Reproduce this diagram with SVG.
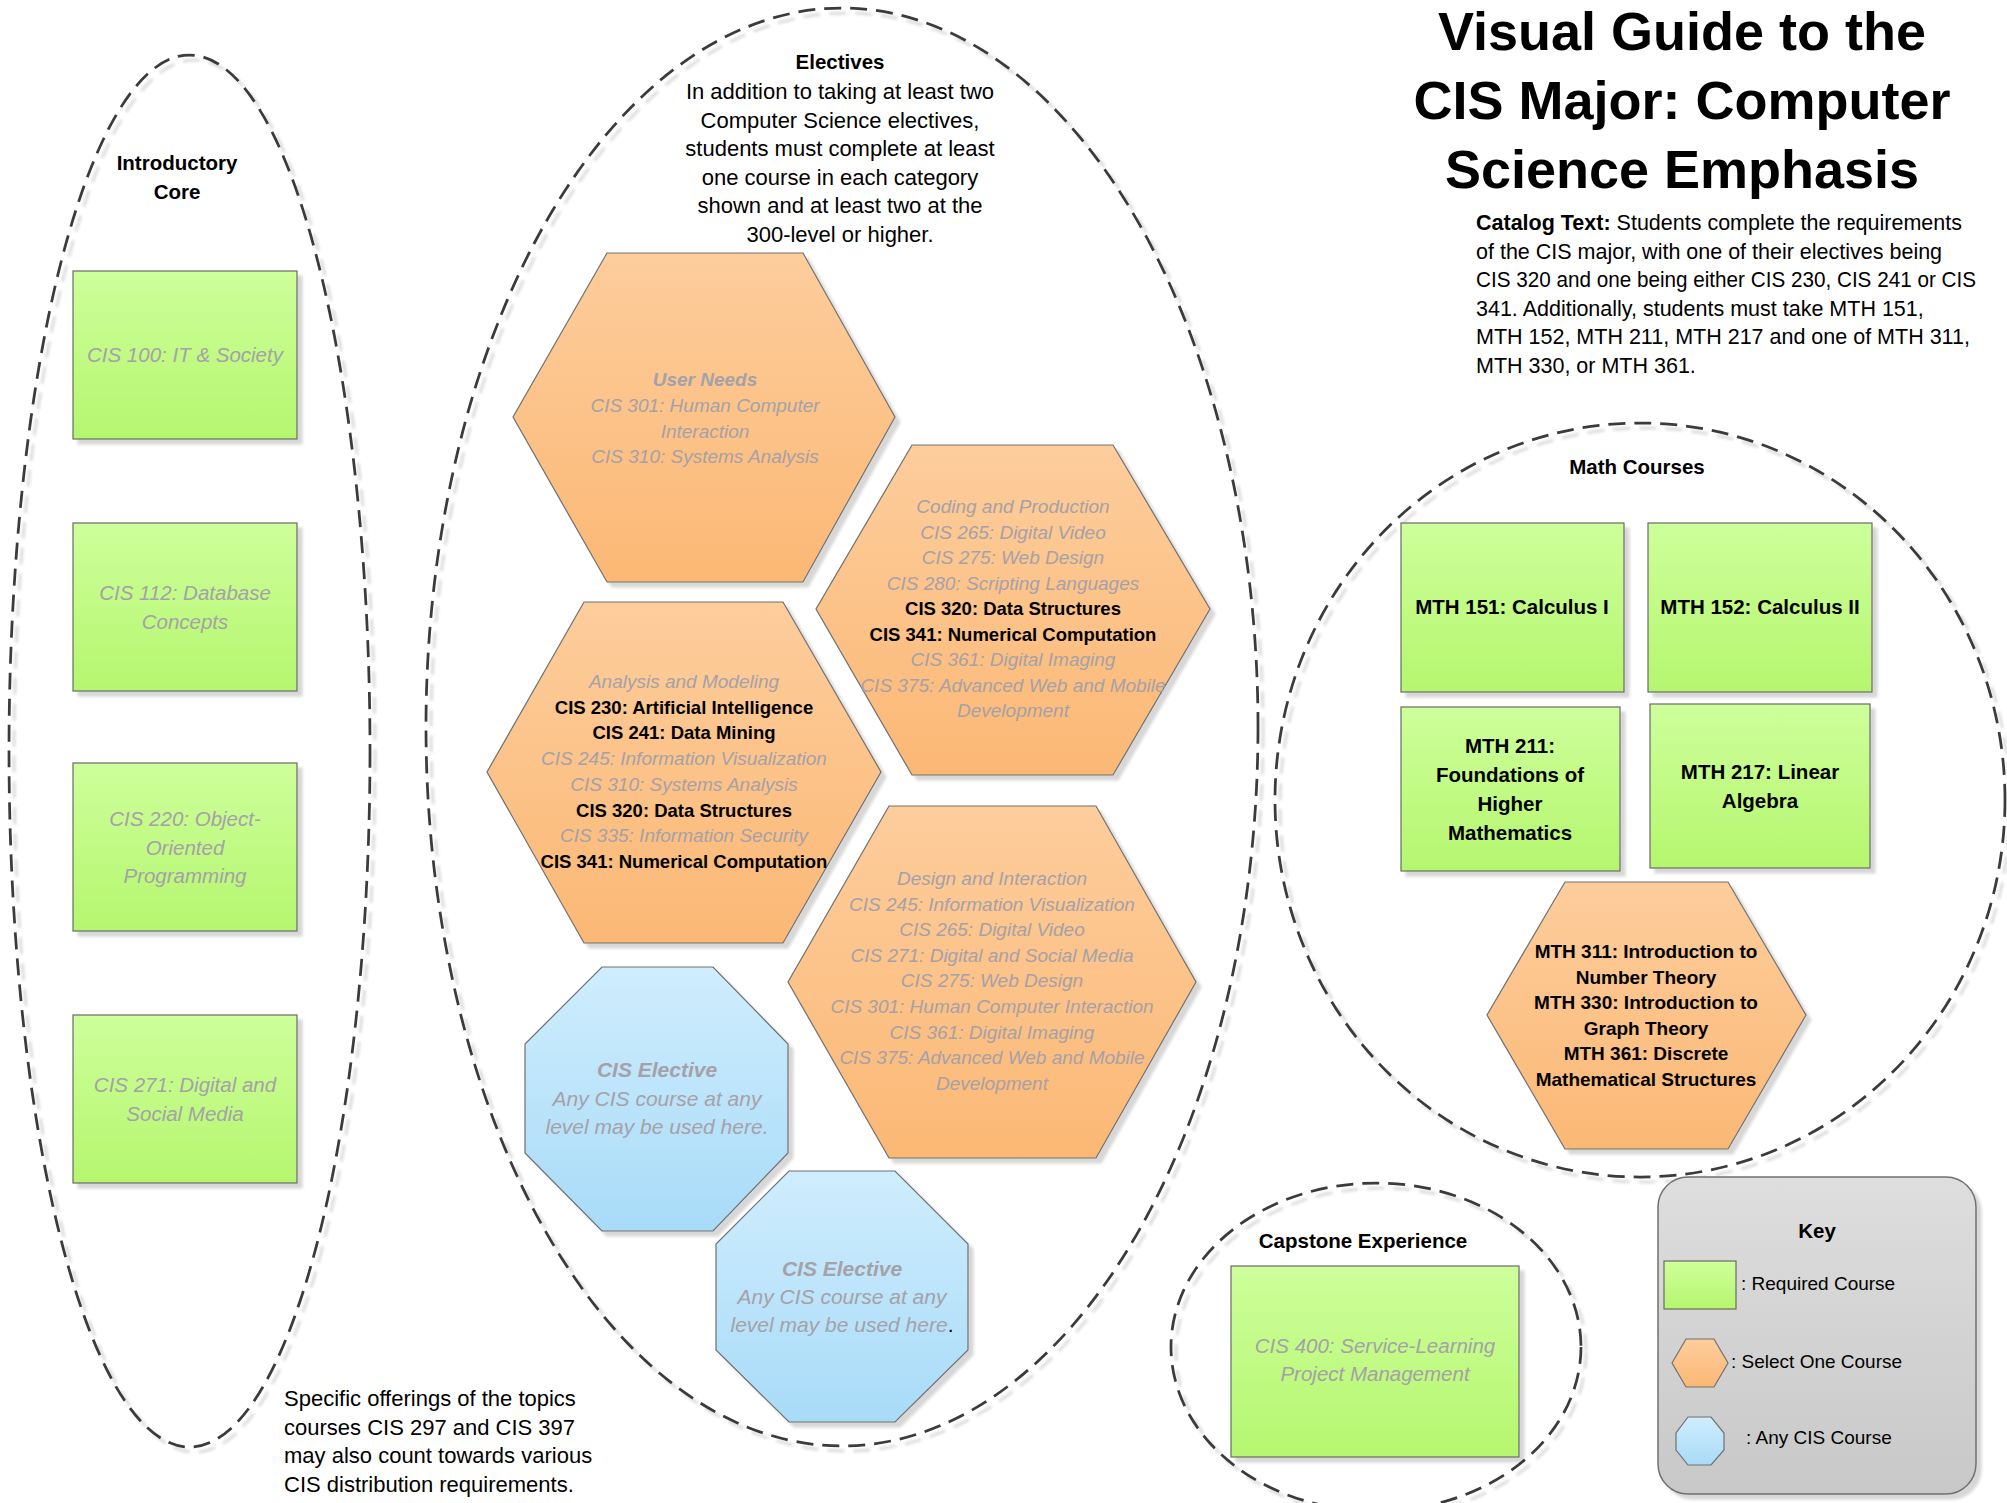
<svg xmlns="http://www.w3.org/2000/svg" width="2007" height="1503" viewBox="0 0 2007 1503">
<defs>
<linearGradient id="gGreen" x1="0" y1="0" x2="0" y2="1"><stop offset="0" stop-color="#cdff9b"/><stop offset="1" stop-color="#b5f66e"/></linearGradient>
<linearGradient id="gOrange" x1="0" y1="0" x2="0" y2="1"><stop offset="0" stop-color="#fdcd9c"/><stop offset="1" stop-color="#fbb875"/></linearGradient>
<linearGradient id="gBlue" x1="0" y1="0" x2="0" y2="1"><stop offset="0" stop-color="#cfedfd"/><stop offset="1" stop-color="#a8dbf8"/></linearGradient>
<linearGradient id="gGray" x1="0" y1="0" x2="0" y2="1"><stop offset="0" stop-color="#dedede"/><stop offset="1" stop-color="#c8c8c8"/></linearGradient>
<filter id="sh" x="-10%" y="-10%" width="130%" height="130%">
<feGaussianBlur in="SourceAlpha" stdDeviation="1.5"/>
<feOffset dx="5" dy="5"/>
<feComponentTransfer><feFuncA type="linear" slope="0.16"/></feComponentTransfer>
<feMerge><feMergeNode/><feMergeNode in="SourceGraphic"/></feMerge>
</filter>
<style>
text{font-family:"Liberation Sans",Arial,sans-serif;}
.grp{fill:none;stroke:#3a3a3a;stroke-width:2.75;stroke-dasharray:17 9;}
.box{fill:url(#gGreen);stroke:#6a6a6a;stroke-width:1.2;}
.hex{fill:url(#gOrange);stroke:#707070;stroke-width:1.2;}
.oct{fill:url(#gBlue);stroke:#707070;stroke-width:1.2;}
.hd{font-weight:bold;font-size:20.5px;fill:#000;text-anchor:middle;}
.body{font-size:22px;fill:#000;}
.cat{font-size:21.5px;fill:#000;}
.gi{font-style:italic;font-size:20.5px;fill:#a5a1a8;text-anchor:middle;}
.hi{font-style:italic;font-size:19px;fill:#a5a1a8;text-anchor:middle;}
.hb{font-weight:bold;font-size:18.5px;fill:#000;text-anchor:middle;font-style:normal;}
.oi{font-style:italic;font-size:21px;fill:#a5a1a8;text-anchor:middle;}
.mb{font-weight:bold;font-size:20.5px;fill:#000;text-anchor:middle;}
.mh{font-weight:bold;font-size:19px;fill:#000;text-anchor:middle;}
.key{font-size:19px;fill:#000;}
.tt{font-size:54px;font-weight:bold;fill:#000;text-anchor:middle;}
</style>
</defs>
<rect width="2007" height="1503" fill="#ffffff"/>

<g id="title">
<text class="tt" x="1682" y="50">Visual Guide to the</text>
<text class="tt" x="1682" y="119" font-size="55">CIS Major: Computer</text>
<text class="tt" x="1682" y="188">Science Emphasis</text>
</g>

<g id="catalog-text">
<text class="cat" x="1476" y="230"><tspan font-weight="bold">Catalog Text:</tspan> Students complete the requirements</text>
<text class="cat" x="1476" y="258.6">of the CIS major, with one of their electives being</text>
<text class="cat" x="1476" y="287.2" textLength="500" lengthAdjust="spacingAndGlyphs">CIS 320 and one being either CIS 230, CIS 241 or CIS</text>
<text class="cat" x="1476" y="315.8">341. Additionally, students must take MTH 151,</text>
<text class="cat" x="1476" y="344.4">MTH 152, MTH 211, MTH 217 and one of MTH 311,</text>
<text class="cat" x="1476" y="373">MTH 330, or MTH 361.</text>
</g>

<g id="introductory-core">
<ellipse class="grp" cx="189.5" cy="751" rx="180.5" ry="696" filter="url(#sh)"/>
<text class="hd" x="177" y="170">Introductory</text>
<text class="hd" x="177" y="199">Core</text>
</g>

<g id="cis100">
<rect class="box" x="73" y="271" width="224" height="168" filter="url(#sh)"/>
<text class="gi" x="185" y="362">CIS 100: IT &amp; Society</text>
</g>
<g id="cis112">
<rect class="box" x="73" y="523" width="224" height="168" filter="url(#sh)"/>
<text class="gi" x="185" y="599.5">CIS 112: Database</text>
<text class="gi" x="185" y="628.5">Concepts</text>
</g>
<g id="cis220">
<rect class="box" x="73" y="763" width="224" height="168" filter="url(#sh)"/>
<text class="gi" x="185" y="826">CIS 220: Object-</text>
<text class="gi" x="185" y="854.5">Oriented</text>
<text class="gi" x="185" y="883">Programming</text>
</g>
<g id="cis271">
<rect class="box" x="73" y="1015" width="224" height="168" filter="url(#sh)"/>
<text class="gi" x="185" y="1091.5">CIS 271: Digital and</text>
<text class="gi" x="185" y="1120.5">Social Media</text>
</g>

<g id="electives">
<ellipse class="grp" cx="842" cy="727" rx="416" ry="719" filter="url(#sh)"/>
<text class="hd" x="840" y="69">Electives</text>
<text class="body" x="840" y="99" text-anchor="middle">In addition to taking at least two</text>
<text class="body" x="840" y="127.6" text-anchor="middle">Computer Science electives,</text>
<text class="body" x="840" y="156.2" text-anchor="middle">students must complete at least</text>
<text class="body" x="840" y="184.8" text-anchor="middle">one course in each category</text>
<text class="body" x="840" y="213.4" text-anchor="middle">shown and at least two at the</text>
<text class="body" x="840" y="242" text-anchor="middle">300-level or higher.</text>
</g>

<g id="user-needs">
<polygon class="hex" points="607,253 803,253 895,417 803,582 607,582 513,417" filter="url(#sh)"/>
<text class="hi" x="705" y="386" font-weight="bold">User Needs</text>
<text class="hi" x="705" y="412">CIS 301: Human Computer</text>
<text class="hi" x="705" y="437.5">Interaction</text>
<text class="hi" x="705" y="463">CIS 310: Systems Analysis</text>
</g>

<g id="coding-production">
<polygon class="hex" points="912,445 1113,445 1210,609 1113,775 912,775 816,609" filter="url(#sh)"/>
<text class="hi" x="1013" y="513">Coding and Production</text>
<text class="hi" x="1013" y="538.5">CIS 265: Digital Video</text>
<text class="hi" x="1013" y="564">CIS 275: Web Design</text>
<text class="hi" x="1013" y="589.5">CIS 280: Scripting Languages</text>
<text class="hb" x="1013" y="615">CIS 320: Data Structures</text>
<text class="hb" x="1013" y="640.5">CIS 341: Numerical Computation</text>
<text class="hi" x="1013" y="666">CIS 361: Digital Imaging</text>
<text class="hi" x="1013" y="691.5">CIS 375: Advanced Web and Mobile</text>
<text class="hi" x="1013" y="717">Development</text>
</g>

<g id="analysis-modeling">
<polygon class="hex" points="584,602 783,602 881,772 783,943 584,943 487,772" filter="url(#sh)"/>
<text class="hi" x="684" y="688">Analysis and Modeling</text>
<text class="hb" x="684" y="713.7">CIS 230: Artificial Intelligence</text>
<text class="hb" x="684" y="739.4">CIS 241: Data Mining</text>
<text class="hi" x="684" y="765.1">CIS 245: Information Visualization</text>
<text class="hi" x="684" y="790.8">CIS 310: Systems Analysis</text>
<text class="hb" x="684" y="816.5">CIS 320: Data Structures</text>
<text class="hi" x="684" y="842.2">CIS 335: Information Security</text>
<text class="hb" x="684" y="867.9">CIS 341: Numerical Computation</text>
</g>

<g id="design-interaction">
<polygon class="hex" points="889,806 1096,806 1196,982 1096,1158 889,1158 788,982" filter="url(#sh)"/>
<text class="hi" x="992" y="885">Design and Interaction</text>
<text class="hi" x="992" y="910.6">CIS 245: Information Visualization</text>
<text class="hi" x="992" y="936.2">CIS 265: Digital Video</text>
<text class="hi" x="992" y="961.8">CIS 271: Digital and Social Media</text>
<text class="hi" x="992" y="987.4">CIS 275: Web Design</text>
<text class="hi" x="992" y="1013">CIS 301: Human Computer Interaction</text>
<text class="hi" x="992" y="1038.6">CIS 361: Digital Imaging</text>
<text class="hi" x="992" y="1064.2">CIS 375: Advanced Web and Mobile</text>
<text class="hi" x="992" y="1089.8">Development</text>
</g>

<g id="cis-elective-1">
<polygon class="oct" points="602,967 713,967 788,1044 788,1153 713,1231 602,1231 525,1153 525,1044" filter="url(#sh)"/>
<text class="oi" x="657" y="1077" font-weight="bold">CIS Elective</text>
<text class="oi" x="657" y="1106">Any CIS course at any</text>
<text class="oi" x="657" y="1134">level may be used here.</text>
</g>

<g id="cis-elective-2">
<polygon class="oct" points="789,1171 895,1171 968,1244 968,1350 895,1422 789,1422 716,1350 716,1244" filter="url(#sh)"/>
<text class="oi" x="842" y="1276" font-weight="bold">CIS Elective</text>
<text class="oi" x="842" y="1304">Any CIS course at any</text>
<text class="oi" x="842" y="1332">level may be used here<tspan fill="#000" font-style="normal">.</tspan></text>
</g>

<g id="note">
<text class="body" x="284" y="1406">Specific offerings of the topics</text>
<text class="body" x="284" y="1434.7">courses CIS 297 and CIS 397</text>
<text class="body" x="284" y="1463.4">may also count towards various</text>
<text class="body" x="284" y="1492">CIS distribution requirements.</text>
</g>

<g id="math-courses">
<ellipse class="grp" cx="1640" cy="800" rx="365" ry="377" filter="url(#sh)"/>
<text class="hd" x="1637" y="474">Math Courses</text>
</g>
<g id="mth151">
<rect class="box" x="1401" y="523" width="223" height="169" filter="url(#sh)"/>
<text class="mb" x="1512" y="614">MTH 151: Calculus I</text>
</g>
<g id="mth152">
<rect class="box" x="1648" y="523" width="224" height="169" filter="url(#sh)"/>
<text class="mb" x="1760" y="614">MTH 152: Calculus II</text>
</g>
<g id="mth211">
<rect class="box" x="1401" y="707" width="219" height="164" filter="url(#sh)"/>
<text class="mb" x="1510" y="753">MTH 211:</text>
<text class="mb" x="1510" y="782">Foundations of</text>
<text class="mb" x="1510" y="811">Higher</text>
<text class="mb" x="1510" y="840">Mathematics</text>
</g>
<g id="mth217">
<rect class="box" x="1650" y="704" width="220" height="164" filter="url(#sh)"/>
<text class="mb" x="1760" y="779">MTH 217: Linear</text>
<text class="mb" x="1760" y="808">Algebra</text>
</g>
<g id="mth-select">
<polygon class="hex" points="1565,882 1728,882 1806,1015 1728,1149 1565,1149 1487,1015" filter="url(#sh)"/>
<text class="mh" x="1646" y="958">MTH 311: Introduction to</text>
<text class="mh" x="1646" y="983.6">Number Theory</text>
<text class="mh" x="1646" y="1009.2">MTH 330: Introduction to</text>
<text class="mh" x="1646" y="1034.8">Graph Theory</text>
<text class="mh" x="1646" y="1060.4">MTH 361: Discrete</text>
<text class="mh" x="1646" y="1086">Mathematical Structures</text>
</g>

<g id="capstone">
<ellipse class="grp" cx="1376" cy="1347" rx="205" ry="164" filter="url(#sh)"/>
<text class="hd" x="1363" y="1248">Capstone Experience</text>
</g>
<g id="cis400">
<rect class="box" x="1231" y="1266" width="288" height="191" filter="url(#sh)"/>
<text class="gi" x="1375" y="1353">CIS 400: Service-Learning</text>
<text class="gi" x="1375" y="1381">Project Management</text>
</g>

<g id="key">
<rect x="1658" y="1177" width="318" height="317" rx="30" fill="url(#gGray)" stroke="#707070" stroke-width="1.5" filter="url(#sh)"/>
<text class="hd" x="1817" y="1238" font-size="19">Key</text>
<rect class="box" x="1664" y="1261" width="72" height="48"/>
<text class="key" x="1741" y="1290">: Required Course</text>
<polygon class="hex" points="1672,1363 1686,1339 1714,1339 1728,1363 1714,1387 1686,1387"/>
<text class="key" x="1731" y="1368">: Select One Course</text>
<polygon class="oct" points="1688,1417 1711,1417 1724,1433 1724,1450 1711,1465 1688,1465 1676,1450 1676,1433"/>
<text class="key" x="1746" y="1444">: Any CIS Course</text>
</g>
</svg>
